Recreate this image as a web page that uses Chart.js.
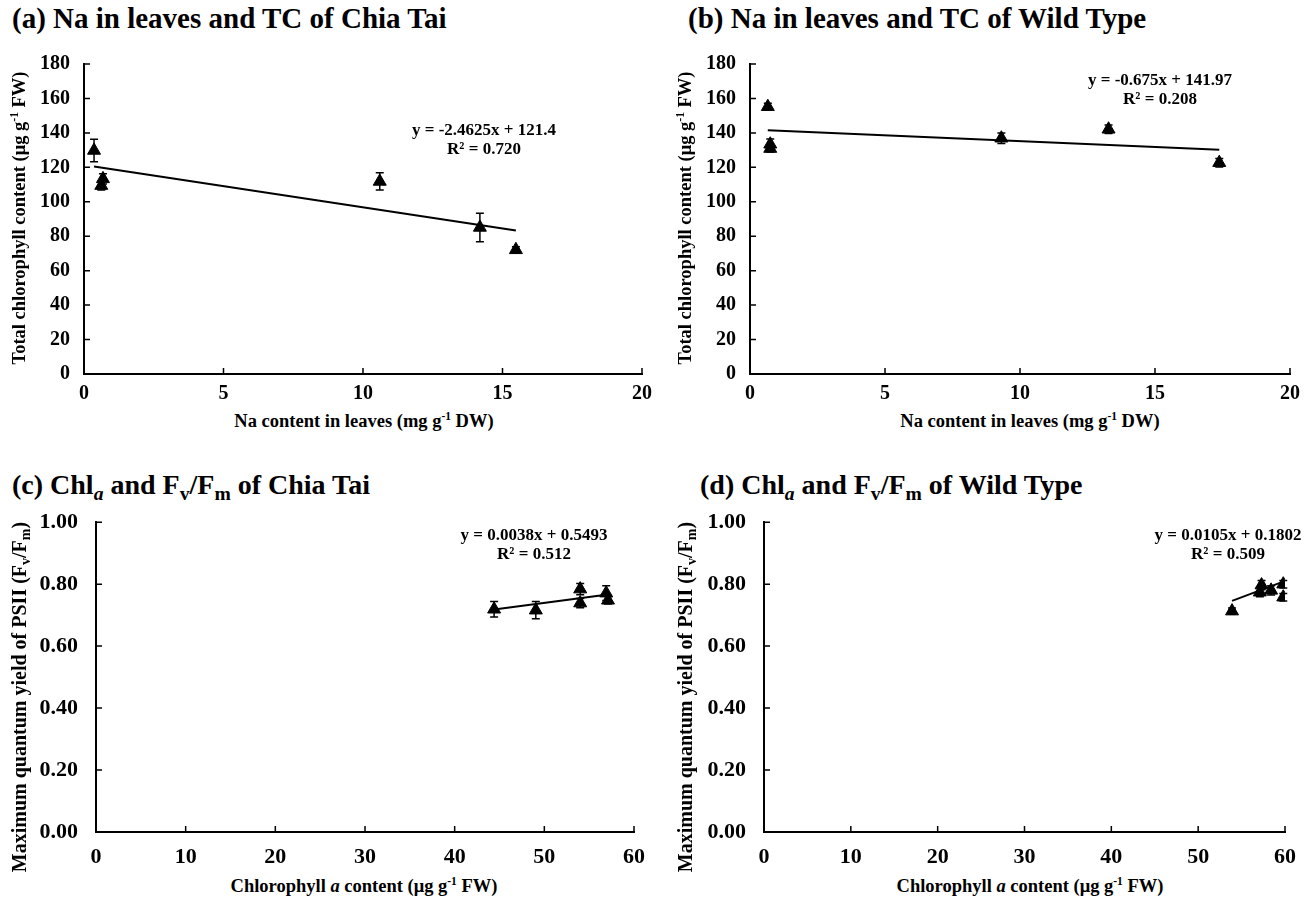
<!DOCTYPE html>
<html>
<head>
<meta charset="utf-8">
<script src="https://cdn.jsdelivr.net/npm/chart.js@4.4.1/dist/chart.umd.min.js"></script>
<style>
  body { margin: 0; background: #fff; }
  #page { position: relative; width: 1312px; height: 900px; font-family: "Liberation Serif", serif; font-weight: bold; color: #000; }
  .box { position: absolute; }
  .lbl { position: absolute; white-space: nowrap; transform: translate(-50%, -50%); }
  .rot { position: absolute; white-space: nowrap; transform: translate(-50%, -50%) rotate(-90deg); }
  .ttl { position: absolute; white-space: nowrap; font-size: 29px; }
  .ttl2 { position: absolute; white-space: nowrap; font-size: 28px; }
  .eq { font-size: 17px; }
  .axt { font-size: 18.5px; }
  .axt2 { font-size: 20px; }
  sup { font-size: 0.62em; vertical-align: 0.55em; line-height: 0; }
  sub { font-size: 0.7em; vertical-align: -0.3em; line-height: 0; }
</style>
</head>
<body>
<div id="page">
  <div class="ttl" style="left:12px; top:2px;">(a) Na in leaves and TC of Chia Tai</div>
  <div class="ttl" style="left:688px; top:2px;">(b) Na in leaves and TC of Wild Type</div>
  <div class="ttl2" style="left:12px; top:469px;">(c) Chl<sub><i>a</i></sub> and F<sub>v</sub>/F<sub>m</sub> of Chia Tai</div>
  <div class="ttl2" style="left:700px; top:469px;">(d) Chl<sub><i>a</i></sub> and F<sub>v</sub>/F<sub>m</sub> of Wild Type</div>

  <div class="box" style="left:0; top:38px; width:660px; height:368px;"><canvas id="chartA"></canvas></div>
  <div class="box" style="left:660px; top:38px; width:652px; height:368px;"><canvas id="chartB"></canvas></div>
  <div class="box" style="left:0; top:491px; width:660px; height:373px;"><canvas id="chartC"></canvas></div>
  <div class="box" style="left:660px; top:491px; width:652px; height:373px;"><canvas id="chartD"></canvas></div>

  <div class="rot axt" style="left:19px; top:218px;">Total chlorophyll content (μg g<sup>-1</sup> FW)</div>
  <div class="rot axt" style="left:685px; top:218px;">Total chlorophyll content (μg g<sup>-1</sup> FW)</div>
  <div class="rot axt2" style="left:19px; top:697px;">Maximum quantum yield of PSII (F<sub>v</sub>/F<sub>m</sub>)</div>
  <div class="rot axt2" style="left:685px; top:697px;">Maximum quantum yield of PSII (F<sub>v</sub>/F<sub>m</sub>)</div>

  <div class="lbl axt" style="left:364px; top:421px;">Na content in leaves (mg g<sup>-1</sup> DW)</div>
  <div class="lbl axt" style="left:1030px; top:421px;">Na content in leaves (mg g<sup>-1</sup> DW)</div>
  <div class="lbl axt" style="left:364px; top:886px;">Chlorophyll <i>a</i> content (μg g<sup>-1</sup> FW)</div>
  <div class="lbl axt" style="left:1030px; top:886px;">Chlorophyll <i>a</i> content (μg g<sup>-1</sup> FW)</div>

  <div class="lbl eq" style="left:484px; top:130px;">y = -2.4625x + 121.4</div>
  <div class="lbl eq" style="left:484px; top:149px;">R² = 0.720</div>
  <div class="lbl eq" style="left:1160px; top:80px;">y = -0.675x + 141.97</div>
  <div class="lbl eq" style="left:1160px; top:99px;">R² = 0.208</div>
  <div class="lbl eq" style="left:534px; top:535px;">y = 0.0038x + 0.5493</div>
  <div class="lbl eq" style="left:534px; top:554px;">R² = 0.512</div>
  <div class="lbl eq" style="left:1228px; top:535px;">y = 0.0105x + 0.1802</div>
  <div class="lbl eq" style="left:1228px; top:554px;">R² = 0.509</div>
</div>
<script>
// (a) Chia Tai: Na in leaves vs total chlorophyll
const naChiaTai = [0.36, 0.62, 0.68, 10.6, 14.19, 15.48];
const tcChiaTai = [129.8, 109.4, 113.3, 111.8, 85.1, 72.1];
const tcErrChiaTai = [6.5, 2.5, 3, 5, 8.3, 1.8];
// (b) Wild Type
const naWild = [0.66, 0.75, 0.75, 9.31, 13.28, 17.38];
const tcWild = [155.2, 133.4, 130.9, 136.9, 142.1, 122.7];
const tcErrWild = [2, 3, 2, 3, 2.5, 2.5];
// (c) Chia Tai: chlorophyll a vs Fv/Fm
const chlaChiaTai = [44.4, 49.05, 54.0, 54.0, 56.9, 57.1];
const fvfmChiaTai = [0.719, 0.716, 0.784, 0.739, 0.771, 0.748];
const fvfmErrChiaTai = [0.025, 0.028, 0.018, 0.015, 0.024, 0.012];
// (d) Wild Type
const chlaWild = [53.9, 57.1, 57.3, 58.4, 59.8, 59.8];
const fvfmWild = [0.713, 0.774, 0.797, 0.78, 0.80, 0.758];
const fvfmErrWild = [0.01, 0.015, 0.015, 0.015, 0.012, 0.012];

// trendline slope / intercept as printed on each panel
const trendA = [-2.4625, 121.4];
const trendB = [-0.675, 141.97];
const trendC = [0.0038, 0.5493];
const trendD = [0.0105, 0.1802];

const naTicks = [0, 5, 10, 15, 20];
const tcTicks = [0, 20, 40, 60, 80, 100, 120, 140, 160, 180];
const chlaTicks = [0, 10, 20, 30, 40, 50, 60];
const fvfmTicks = [0, 0.2, 0.4, 0.6, 0.8, 1.0];

const FONT = "'Liberation Serif', 'Times New Roman', serif";

// vertical error bars with caps
const errorBars = {
    id: 'errorBars',
    afterDatasetsDraw(chart) {
        const ds = chart.data.datasets[0];
        const xs = chart.scales.x, ys = chart.scales.y;
        const ctx = chart.ctx;
        ctx.save();
        ctx.strokeStyle = '#000';
        ctx.lineWidth = 1.5;
        ds.data.forEach((p, i) => {
            const e = ds.errors[i];
            const px = xs.getPixelForValue(p.x);
            const top = ys.getPixelForValue(p.y + e);
            const bot = ys.getPixelForValue(p.y - e);
            ctx.beginPath();
            ctx.moveTo(px, top); ctx.lineTo(px, bot);
            ctx.moveTo(px - 4, top); ctx.lineTo(px + 4, top);
            ctx.moveTo(px - 4, bot); ctx.lineTo(px + 4, bot);
            ctx.stroke();
        });
        ctx.restore();
    }
};

// tick marks pointing into the plot area
const innerTicks = {
    id: 'innerTicks',
    afterDraw(chart) {
        const xs = chart.scales.x, ys = chart.scales.y;
        const a = chart.chartArea;
        const ctx = chart.ctx;
        ctx.save();
        ctx.strokeStyle = '#000';
        ctx.lineWidth = 1.5;
        ctx.beginPath();
        xs.ticks.forEach(t => {
            const px = xs.getPixelForValue(t.value);
            ctx.moveTo(px, a.bottom); ctx.lineTo(px, a.bottom - 6);
        });
        ys.ticks.forEach(t => {
            const py = ys.getPixelForValue(t.value);
            ctx.moveTo(a.left, py); ctx.lineTo(a.left + 6, py);
        });
        ctx.stroke();
        ctx.restore();
    }
};

function makeChart(id, xs, ys, errs, trend, xr, yr, yDigits, yWidth, padRight, xPad, yPad, fontSize) {
    const pts = xs.map((x, i) => ({ x: x, y: ys[i] }));
    const lo = Math.min(...xs), hi = Math.max(...xs);
    const line = [lo, hi].map(x => ({ x: x, y: trend[0] * x + trend[1] }));
    const tickFont = { family: FONT, size: fontSize, weight: 'bold' };
    new Chart(id, {
        type: 'scatter',
        data: {
            datasets: [
                {
                    data: pts,
                    errors: errs,
                    pointStyle: 'triangle',
                    pointRadius: 7.5,
                    backgroundColor: '#000',
                    borderColor: '#000',
                    borderWidth: 1
                },
                {
                    type: 'line',
                    data: line,
                    borderColor: '#000',
                    borderWidth: 2,
                    pointRadius: 0,
                    fill: false
                }
            ]
        },
        options: {
            animation: false,
            responsive: true,
            maintainAspectRatio: false,
            layout: { padding: { top: 0, right: padRight, left: 0, bottom: 0 } },
            plugins: { legend: { display: false }, tooltip: { enabled: false } },
            scales: {
                x: {
                    type: 'linear', min: xr[0], max: xr[xr.length - 1],
                    afterBuildTicks: s => { s.ticks = xr.map(v => ({ value: v })); },
                    afterFit: s => { s.height = 32; },
                    grid: { drawOnChartArea: false, drawTicks: false },
                    border: { color: '#000', width: 2 },
                    ticks: { color: '#000', font: tickFont, padding: xPad }
                },
                y: {
                    type: 'linear', min: yr[0], max: yr[yr.length - 1],
                    afterBuildTicks: s => { s.ticks = yr.map(v => ({ value: v })); },
                    afterFit: s => { s.width = yWidth; },
                    grid: { drawOnChartArea: false, drawTicks: false },
                    border: { color: '#000', width: 2 },
                    ticks: { color: '#000', font: tickFont, padding: yPad, callback: v => v.toFixed(yDigits) }
                }
            }
        },
        plugins: [errorBars, innerTicks]
    });
}

makeChart('chartA', naChiaTai, tcChiaTai, tcErrChiaTai, trendA, naTicks, tcTicks, 0, 84, 16, 8, 14, 20);
makeChart('chartB', naWild, tcWild, tcErrWild, trendB, naTicks, tcTicks, 0, 90, 22, 8, 14, 20);
makeChart('chartC', chlaChiaTai, fvfmChiaTai, fvfmErrChiaTai, trendC, chlaTicks, fvfmTicks, 2, 96, 26, 12, 18, 22);
makeChart('chartD', chlaWild, fvfmWild, fvfmErrWild, trendD, chlaTicks, fvfmTicks, 2, 104, 27, 12, 18, 22);
</script>
</body>
</html>
